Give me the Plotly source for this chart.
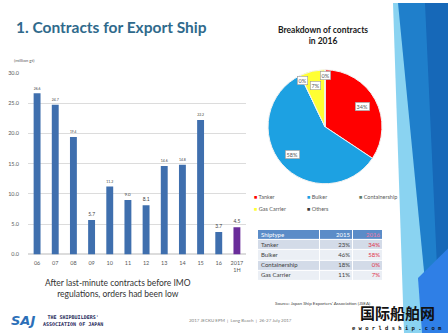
import math
import plotly.graph_objects as go

# ---------------- data ----------------
years = ["06", "07", "08", "09", "10", "11", "12", "13", "14", "15", "16", "2017<br>1H"]
contracts_mgt = [26.6, 24.7, 19.4, 5.7, 11.2, 9.0, 8.1, 14.6, 14.8, 22.2, 3.7, 4.5]
y_ticks = [0, 5, 10, 15, 20, 25, 30]

ship_types = ["Tanker", "Bulker", "Containership", "Gas Carrier", "Others"]
share_2016_pie = [34, 58, 0, 7, 0]

table_header = ["Shiptype", "2015", "2016"]
table_types = ["Tanker", "Bulker", "Containership", "Gas Carrier"]
table_2015 = ["23%", "46%", "18%", "11%"]
table_2016 = ["34%", "58%", "0%", "7%"]

# ---------------- styling ----------------
W, H = 448, 336
FONT = "Lato"
bar_colors = ["#3F6FAE"] * (len(years) - 1) + ["#6A2D9A"]
pie_colors = ["#FF0000", "#1DA1E2", "#5E7A66", "#FFFF33", "#3A3A3A"]
col_edges = [0, 62, 95, 125]          # table column widths (px)


def px(x):
    return x / W


def py(y):
    return 1 - y / H


fig = go.Figure()

# ---- bar chart ----
fig.add_trace(go.Bar(
    x=years, y=contracts_mgt,
    marker=dict(color=bar_colors, line=dict(width=0)),
    text=[f"{v:.1f}" for v in contracts_mgt],
    textposition="outside", cliponaxis=False,
    textfont=dict(size=5.5, color="#404040", family=FONT),
    xaxis="x", yaxis="y", showlegend=False, hoverinfo="x+y",
))

# ---- pie ----
pie_dom_x = [px(267), px(383)]
pie_dom_y = [py(184), py(68)]
fig.add_trace(go.Pie(
    labels=ship_types, values=share_2016_pie,
    sort=False, direction="clockwise", rotation=0,
    marker=dict(colors=pie_colors, line=dict(color="#F2F2F2", width=1)),
    textinfo="none", showlegend=False,
    domain=dict(x=pie_dom_x, y=pie_dom_y),
))

# ---- table (heatmap cells + text) ----
n_rows = len(table_types) + 1
z = [[0] * 3] + [[1 if r % 2 == 0 else 2] * 3 for r in range(len(table_types))]
fig.add_trace(go.Heatmap(
    z=z, x=col_edges, y=list(range(n_rows + 1)),
    zmin=0, zmax=2,
    colorscale=[[0, "#5B8CC8"], [0.5, "#D3DBE8"], [1, "#EBEFF5"]],
    showscale=False, xgap=1, ygap=1, hoverinfo="skip",
    xaxis="x3", yaxis="y3",
))
row_y = [r + 0.5 for r in range(n_rows)]
columns = [[table_header[0]] + table_types, [table_header[1]] + table_2015, [table_header[2]] + table_2016]
col_colors = [
    ["#FFFFFF"] + ["#404040"] * len(table_types),
    ["#FFFFFF"] + ["#404040"] * len(table_types),
    ["#F07AA5"] + ["#E0304A"] * len(table_types),
]
col_anchor = [col_edges[0] + 3, col_edges[2] - 3, col_edges[3] - 3]
col_pos = ["middle right", "middle left", "middle left"]
for vals, cols, ax, pos in zip(columns, col_colors, col_anchor, col_pos):
    fig.add_trace(go.Scatter(
        x=[ax] * n_rows, y=row_y, text=vals, mode="text", textposition=pos,
        textfont=dict(size=6, color=cols, family=FONT), hoverinfo="skip",
        xaxis="x3", yaxis="y3", showlegend=False, cliponaxis=False,
    ))

# ---------------- annotations ----------------
ann = []


def note(text, x, y, size, color, family=FONT, xanchor="center", **kw):
    d = dict(text=text, x=px(x), y=py(y), xref="paper", yref="paper",
             xanchor=xanchor, yanchor="middle", showarrow=False,
             font=dict(size=size, color=color, family=family))
    d.update(kw)
    ann.append(d)


note("<b>1. Contracts for Export Ship</b>", 14, 24, 15.5, "#2F6A8C", xanchor="left")
note("(million gt)", 12, 59, 4.5, "#595959", xanchor="left")
note("<b>Breakdown of contracts<br>in 2016</b>", 323, 33, 8.5, "#1A1A1A")
note("After last-minute contracts before IMO<br>regulations, orders had been low", 118, 291, 8.5, "#333333")
note("Source: Japan Ship Exporters' Association (JSEA)", 322, 306, 4.5, "#404040")
note("2017 JECKU EPM  |  Long Beach  |  26-27 July 2017", 240, 323, 4.5, "#808080")
note("<b><i>SAJ</i></b>", 9, 323, 13, "#2C6FB8", family="DejaVu Sans", xanchor="left")
note("<b>THE SHIPBUILDERS'<br>ASSOCIATION OF JAPAN</b>", 41, 323, 5, "#1F2A5A",
     family="DejaVu Sans Mono", xanchor="left")
note("<b>国际船舶网</b>", 397, 315, 15, "#111111", family="Noto Sans CJK SC")
note("<b>e w o r l d s h i p . c o m</b>", 397, 331, 5.5, "#111111", family="DejaVu Sans Mono")

# pie data labels positioned from the slice angles
cx, cy = (267 + 383) / 2, (68 + 184) / 2
R = (383 - 267) / 2
total = sum(share_2016_pie)
cum = 0
for v in share_2016_pie:
    mid = (cum + v / 2) / total * 2 * math.pi
    cum += v
    r = R * (0.74 if v > 0 else 0.9)
    lx = cx + r * math.sin(mid)
    ly = cy - r * math.cos(mid)
    note(f"{v}%", lx, ly, 5.5, "#595959", bgcolor="#FFFFFF", bordercolor="#9A9A9A",
         borderwidth=0.6, borderpad=1)

# legend for the pie (3 per row)
leg_x = [252, 305, 357]
leg_y = [198, 210]
for i, (name, col) in enumerate(zip(ship_types, pie_colors)):
    note(f"<span style='color:{col}'>■</span> {name}", leg_x[i % 3], leg_y[i // 3],
         5.5, "#595959", xanchor="left")

# ---------------- decorative slide shapes ----------------
shapes = [
    dict(type="path", xref="paper", yref="paper", layer="below",
         path=f"M {px(393)} {py(0)} L 1 {py(0)} L 1 {py(336)} L {px(404)} {py(336)} Z",
         fillcolor="#8AD3F1", line=dict(width=0)),
    dict(type="path", xref="paper", yref="paper", layer="below",
         path=f"M {px(398)} {py(0)} L 1 {py(0)} L 1 {py(336)} L {px(430)} {py(336)} Z",
         fillcolor="#1F7FCB", line=dict(width=0)),
    dict(type="path", xref="paper", yref="paper", layer="below",
         path=f"M {px(425)} {py(0)} L 1 {py(0)} L 1 {py(336)} L {px(440)} {py(336)} Z",
         fillcolor="#1668B8", line=dict(width=0)),
    dict(type="path", xref="paper", yref="paper", layer="below",
         path=f"M {px(418)} {py(280)} L 1 {py(250)} L 1 {py(336)} L {px(422)} {py(336)} Z",
         fillcolor="#2F7FE6", line=dict(width=0)),
]

hidden = dict(visible=False, showgrid=False, zeroline=False, fixedrange=True)
fig.update_layout(
    width=W, height=H,
    margin=dict(l=0, r=0, t=0, b=0),
    paper_bgcolor="#FFFFFF", plot_bgcolor="rgba(0,0,0,0)",
    bargap=0.62,
    xaxis=dict(domain=[px(28), px(246)], type="category", range=[-0.5, len(years) - 0.5],
               showgrid=False, showline=False,
               ticks="", tickfont=dict(size=5.5, color="#595959", family=FONT),
               ticklabelstandoff=4, fixedrange=True),
    yaxis=dict(domain=[py(256), py(71)], range=[0, 30], tickvals=y_ticks,
               tickformat=".1f", showgrid=True, gridcolor="#DCDCDC", gridwidth=1,
               zeroline=True, zerolinecolor="#DCDCDC", showline=False, ticks="",
               tickfont=dict(size=5.5, color="#595959", family=FONT),
               ticklabelstandoff=8, fixedrange=True),
    xaxis3=dict(domain=[px(258), px(383)], range=[col_edges[0], col_edges[-1]], anchor="y3", **hidden),
    yaxis3=dict(domain=[py(283), py(231)], range=[n_rows, 0], anchor="x3", **hidden),
    annotations=ann,
    shapes=shapes,
    showlegend=False,
)

fig.write_html("out.html")
